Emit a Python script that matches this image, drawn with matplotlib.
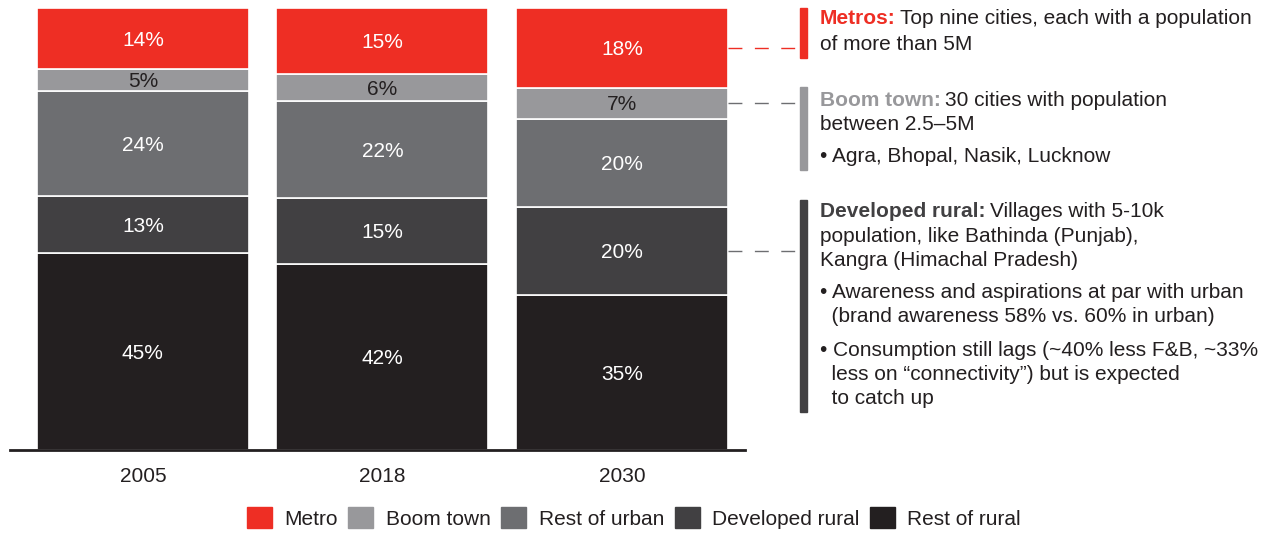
import matplotlib
matplotlib.use("Agg")
import matplotlib.pyplot as plt
import matplotlib.patches as mpatches
import numpy as np

plt.rcParams["font.family"] = ["Liberation Sans", "DejaVu Sans"]

years = ["2005", "2018", "2030"]
segments = ["Rest of rural", "Developed rural", "Rest of urban", "Boom town", "Metro"]
shares = {
    "Rest of rural": [45, 42, 35],
    "Developed rural": [13, 15, 20],
    "Rest of urban": [24, 22, 20],
    "Boom town": [5, 6, 7],
    "Metro": [14, 15, 18],
}
colors = {
    "Metro": "#EE2E24",
    "Boom town": "#98989B",
    "Rest of urban": "#6D6E71",
    "Developed rural": "#414042",
    "Rest of rural": "#231F20",
}
label_colors = {"Boom town": "#231F20"}

W, H = 1268, 533
FS = 15
fig = plt.figure(figsize=(W / 100, H / 100), dpi=100)


def fx(px):
    return px / W


def fy(py):
    return 1 - py / H


ax = fig.add_axes([fx(10), fy(450), fx(745) - fx(10), fy(8) - fy(450)])

x = np.arange(len(years))
width = 0.885
totals = np.sum([shares[s] for s in segments], axis=0)
bottom = np.zeros(len(years))
mids = {}
for s in segments:
    vals = np.array(shares[s], dtype=float) / totals * 100
    ax.bar(x, vals, width, bottom=bottom, color=colors[s], edgecolor="white",
           linewidth=1.2, label=s)
    for i, v in enumerate(shares[s]):
        ax.text(x[i], bottom[i] + vals[i] / 2 - 0.4, f"{v}%", ha="center", va="center",
                fontsize=FS, color=label_colors.get(s, "white"))
    mids[s] = bottom[-1] + vals[-1] / 2
    bottom += vals

ax.set_xlim(-0.555, 2.514)
ax.set_ylim(0, 100)
ax.set_xticks(x)
ax.set_xticklabels(years, fontsize=FS, color="#231F20")
ax.tick_params(axis="x", length=0, pad=12)
ax.set_yticks([])
for side in ["top", "right", "left"]:
    ax.spines[side].set_visible(False)
ax.spines["bottom"].set_color("#231F20")
ax.spines["bottom"].set_linewidth(2)

# connectors from the 2030 bar to the notes
x_end = (800 - 143) / 239.5
dash_colors = {"Metro": "#EE2E24", "Boom town": "#6D6E71", "Developed rural": "#6D6E71"}
for s in ["Metro", "Boom town", "Developed rural"]:
    ax.plot([2 + width / 2, x_end], [mids[s], mids[s]], color=dash_colors[s],
            linewidth=1, dashes=(10, 9), clip_on=False)

# side notes
notes = [
    ("Metro", 8, 58, "Metros:", "#EE2E24",
     [(19, "Top nine cities, each with a population", True), (44, "of more than 5M", False)]),
    ("Boom town", 87, 170, "Boom town:", "#98989B",
     [(100, "30 cities with population", True), (124, "between 2.5\u20135M", False),
      (156, "\u2022 Agra, Bhopal, Nasik, Lucknow", False)]),
    ("Developed rural", 200, 412, "Developed rural:", "#414042",
     [(211, "Villages with 5-10k", True), (236, "population, like Bathinda (Punjab),", False),
      (260, "Kangra (Himachal Pradesh)", False),
      (293, "\u2022 Awareness and aspirations at par with urban", False),
      (317, "  (brand awareness 58% vs. 60% in urban)", False),
      (350, "\u2022 Consumption still lags (~40% less F&B, ~33%", False),
      (374, "  less on \u201cconnectivity\u201d) but is expected", False),
      (399, "  to catch up", False)]),
]
renderer = fig.canvas.get_renderer()
for seg, y0, y1, head, hcol, lines in notes:
    fig.patches.append(mpatches.Rectangle((fx(800), fy(y1)), fx(7), fy(y0) - fy(y1),
                                          transform=fig.transFigure, color=colors[seg]))
    for ly, txt, first in lines:
        if first:
            t = fig.text(fx(820), fy(ly), head, fontsize=FS, fontweight="bold",
                         color=hcol, va="center", ha="left")
            bb = t.get_window_extent(renderer)
            fig.text(fx(bb.x1 + 4), fy(ly), txt, fontsize=FS, color="#231F20",
                     va="center", ha="left")
        else:
            fig.text(fx(820), fy(ly), txt, fontsize=FS, color="#231F20",
                     va="center", ha="left")

handles = [mpatches.Patch(color=colors[s]) for s in segments[::-1]]
fig.legend(handles, segments[::-1], loc="center", bbox_to_anchor=(fx(634), fy(518)),
           ncol=5, frameon=False, fontsize=FS, handlelength=1.2, handleheight=1.15,
           columnspacing=0.5, handletextpad=0.6, labelcolor="#231F20")

fig.savefig("out.png", dpi=100)
